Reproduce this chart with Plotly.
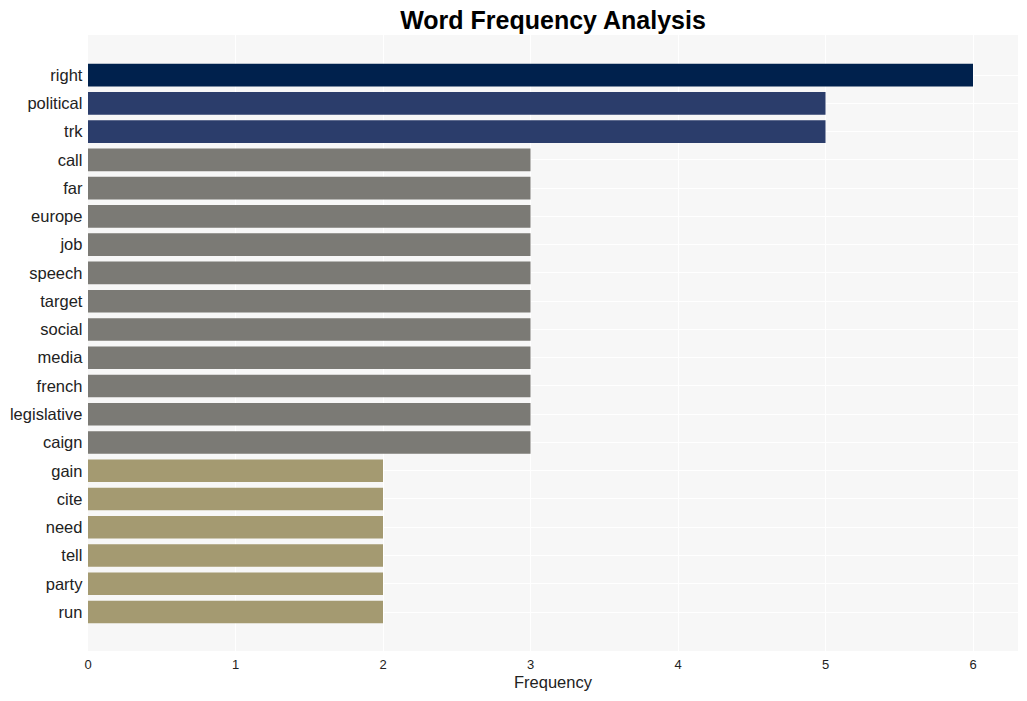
import plotly.graph_objects as go

words = ["right", "political", "trk", "call", "far", "europe", "job", "speech", "target",
         "social", "media", "french", "legislative", "caign", "gain", "cite", "need", "tell",
         "party", "run"]
freqs = [6, 5, 5, 3, 3, 3, 3, 3, 3, 3, 3, 3, 3, 3, 2, 2, 2, 2, 2, 2]
color_by_freq = {6: "#00214d", 5: "#2b3d6b", 3: "#7b7a75", 2: "#a49a71"}
colors = [color_by_freq[f] for f in freqs]

fig = go.Figure(go.Bar(
    x=freqs, y=words, orientation="h",
    marker=dict(color=colors, line=dict(width=0)),
    width=0.8,
))

fig.update_layout(
    width=1027, height=701,
    margin=dict(l=88, r=9, t=35, b=50),
    paper_bgcolor="white",
    plot_bgcolor="#f7f7f7",
    title=dict(text="<b>Word Frequency Analysis</b>", x=0.5, xref="paper", xanchor="center",
               y=0.983, yanchor="top",
               font=dict(family="Liberation Sans, Arial", size=25, color="black")),
    font=dict(family="Liberation Sans, Arial", color="#222222"),
    showlegend=False,
    bargap=0.2,
)
fig.update_xaxes(
    range=[0, 6.305], tickvals=[0, 1, 2, 3, 4, 5, 6],
    showgrid=True, gridcolor="white", gridwidth=1, zeroline=False,
    tickfont=dict(size=13, color="#222222"),
    ticklen=1, ticks="outside", tickcolor="rgba(0,0,0,0)",
    title=dict(text="Frequency", font=dict(size=16.5, color="#222222"), standoff=5),
)
fig.update_yaxes(
    type="category", categoryorder="array", categoryarray=words,
    range=[20.38, -1.42],
    showgrid=True, gridcolor="white", gridwidth=1,
    tickfont=dict(size=16.5, color="#222222"),
    ticksuffix=" ",
)

fig.write_html("out.html")
